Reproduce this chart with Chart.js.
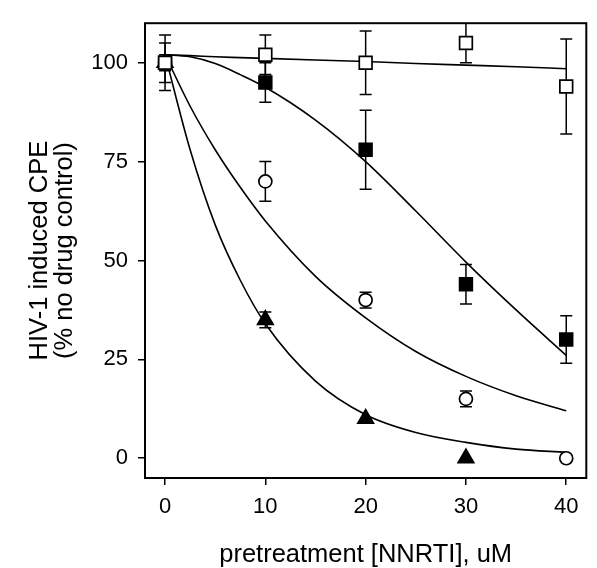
<!DOCTYPE html>
<html>
<head>
<meta charset="utf-8">
<script src="https://cdn.jsdelivr.net/npm/chart.js@4.4.0/dist/chart.umd.min.js"></script>
<style>
  html, body { margin: 0; padding: 0; background: #fff; }
  #wrap { width: 597px; height: 568px; }
</style>
</head>
<body>
<div id="wrap"><canvas id="chartjs" width="597" height="568"></canvas></div>
<script>
// measured points: pretreatment dose (uM) vs CPE (% of no drug control)
const doses = [0, 10, 20, 30, 40];
const openSquare = [100, 102, 100, 105, 94];
const openSquareErr = [7, 5, 8, 5, 12];
const filledSquare = [100, 95, 78, 44, 30];
const filledSquareErr = [5, 5, 10, 5, 6];
const openCircle = [100, 70, 40, 15, 0];
const openCircleErr = [2, 5, 2, 2, 0];
const triDoses = [0, 10, 20, 30];
const filledTriangle = [100, 35, 10, 0];
const filledTriangleErr = [1, 2, 0, 0];

// fitted curves
const fitX = [0, 2.5, 5, 7.5, 10, 15, 20, 25, 30, 35, 40];
const fitOpenSquare = [102, 101.8, 101.5, 101.3, 101.1, 100.7, 100.3, 99.8, 99.4, 99, 98.5];
const fitFilledSquare = [102, 101.5, 99.8, 97, 93.8, 85.5, 75, 62.5, 49.6, 37.5, 26];
const fitOpenCircle = [102, 89, 78, 68.5, 60, 46, 35.5, 27, 20.7, 15.8, 12];
const fitTriangle = [102, 78, 59, 45, 34, 19.5, 11, 6.5, 4, 2.3, 1.5];

const xTicks = [0, 10, 20, 30, 40];
const yTicks = [0, 25, 50, 75, 100];

function pts(xs, ys) {
  return xs.map((v, i) => ({ x: v, y: ys[i] }))
}

function fitLine(ys) {
  return {
    data: pts(fitX, ys),
    showLine: true,
    borderColor: '#000',
    borderWidth: 1.6,
    pointRadius: 0,
    cubicInterpolationMode: 'monotone',
    fill: false,
    order: 5
  }
}

function markers(xs, ys, errs, style, radius, fillColor) {
  return {
    data: pts(xs, ys),
    errors: errs,
    showLine: false,
    pointStyle: style,
    pointRadius: radius,
    pointBackgroundColor: fillColor,
    pointBorderColor: '#000',
    pointBorderWidth: 1.7,
    order: 0
  }
}

// whiskers drawn under the markers
const errorBars = {
  id: 'errorBars',
  beforeDatasetsDraw(chart) {
    const { ctx, scales: { x, y } } = chart;
    ctx.save();
    ctx.beginPath();
    ctx.rect(chart.chartArea.left, chart.chartArea.top, chart.chartArea.width, chart.chartArea.height);
    ctx.clip();
    ctx.strokeStyle = '#000';
    ctx.lineWidth = 1.5;
    chart.data.datasets.forEach(ds => {
      if (!ds.errors) return;
      ds.data.forEach((p, i) => {
        const e = ds.errors[i];
        if (!e) return;
        const px = x.getPixelForValue(p.x);
        const top = y.getPixelForValue(p.y + e);
        const bot = y.getPixelForValue(p.y - e);
        ctx.beginPath();
        ctx.moveTo(px, top); ctx.lineTo(px, bot);
        ctx.moveTo(px - 6, top); ctx.lineTo(px + 6, top);
        ctx.moveTo(px - 6, bot); ctx.lineTo(px + 6, bot);
        ctx.stroke();
      });
    });
    ctx.restore();
  }
};

// box round the plot area
const frame = {
  id: 'frame',
  afterDraw(chart) {
    const { ctx, chartArea: a } = chart;
    ctx.save();
    ctx.strokeStyle = '#000';
    ctx.lineWidth = 2;
    ctx.strokeRect(a.left, a.top, a.right - a.left, a.bottom - a.top);
    ctx.restore();
  }
};

const tickFont = { family: '"Liberation Sans", Arial, sans-serif', size: 22 };
const titleFont = { family: '"Liberation Sans", Arial, sans-serif', size: 25.5, lineHeight: 1.0 };

new Chart(document.getElementById('chartjs').getContext('2d'), {
  type: 'scatter',
  data: {
    datasets: [
      markers(doses, openSquare, openSquareErr, 'rect', 9, '#fff'),
      markers(doses, filledSquare, filledSquareErr, 'rect', 9, '#000'),
      markers(doses, openCircle, openCircleErr, 'circle', 6.5, '#fff'),
      markers(triDoses, filledTriangle, filledTriangleErr, 'triangle', 9, '#000'),
      fitLine(fitOpenSquare),
      fitLine(fitFilledSquare),
      fitLine(fitOpenCircle),
      fitLine(fitTriangle)
    ]
  },
  options: {
    responsive: false,
    animation: false,
    events: [],
    layout: { padding: { left: 0, right: 1, top: 13, bottom: 0 } },
    plugins: {
      legend: { display: false },
      tooltip: { enabled: false }
    },
    scales: {
      x: {
        type: 'linear',
        min: -2,
        max: 42,
        afterBuildTicks: s => { s.ticks = xTicks.map(v => ({ value: v })) },
        afterFit: s => { s.height = 90 },
        grid: { display: true, drawOnChartArea: false, drawTicks: true, tickLength: 7, color: '#000', lineWidth: 1.5 },
        border: { display: false },
        ticks: { color: '#000', font: tickFont, padding: 9, maxRotation: 0 },
        title: { display: true, text: 'pretreatment [NNRTI], uM', color: '#000', font: titleFont, padding: 0 }
      },
      y: {
        type: 'linear',
        min: -5,
        max: 110,
        afterBuildTicks: s => { s.ticks = yTicks.map(v => ({ value: v })) },
        afterFit: s => { s.width = 145 },
        grid: { display: true, drawOnChartArea: false, drawTicks: true, tickLength: 7, color: '#000', lineWidth: 1.5 },
        border: { display: false },
        ticks: { color: '#000', font: tickFont, padding: 10 },
        title: { display: true, text: ['HIV-1 induced CPE', '(% no drug control)'], color: '#000', font: titleFont, padding: { top: 27, bottom: 0 } }
      }
    }
  },
  plugins: [errorBars, frame]
});
</script>
</body>
</html>
